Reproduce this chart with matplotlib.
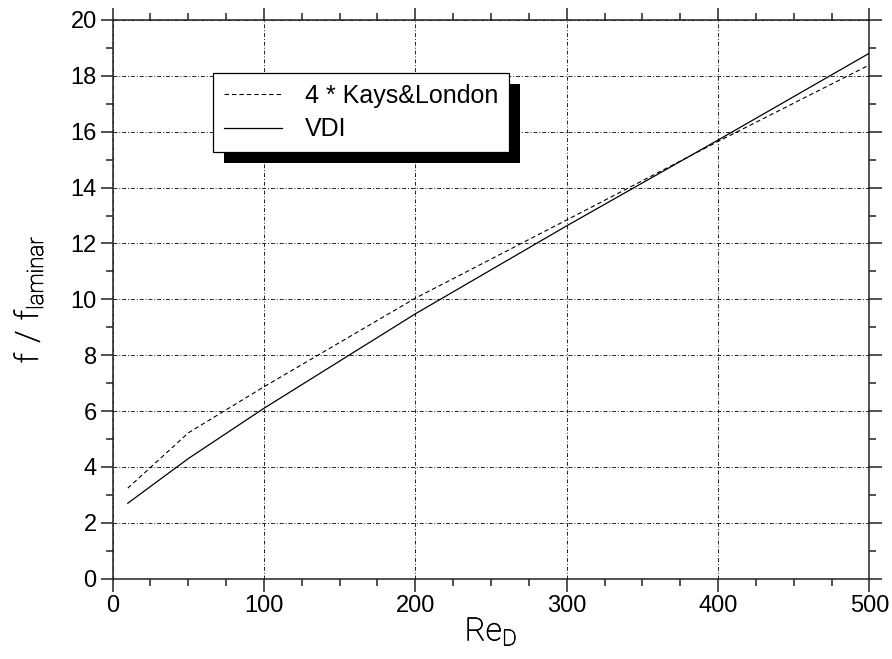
import matplotlib
matplotlib.use('Agg')
import matplotlib.pyplot as plt
import matplotlib.patheffects as pe
from matplotlib.patches import Rectangle
from matplotlib.ticker import MultipleLocator

# friction factor ratio vs Reynolds number
re_kl = [10, 50, 100, 200, 300, 400, 500]
f_kl = [3.24, 5.22, 6.87, 10.04, 12.84, 15.65, 18.39]   # 4 * Kays&London
re_vdi = [10, 50, 100, 200, 300, 400, 500]
f_vdi = [2.70, 4.30, 6.10, 9.48, 12.63, 15.70, 18.81]   # VDI

plt.rcParams['font.family'] = ['Liberation Sans', 'DejaVu Sans']

fig = plt.figure(figsize=(8.92, 6.59), dpi=100)
ax = fig.add_axes([0.1263, 0.1219, 0.8483, 0.8478])

ax.plot(re_kl, f_kl, color='black', lw=0.8, linestyle=(0, (4, 2.7)),
        label='4 * Kays&London', zorder=3)
ax.plot(re_vdi, f_vdi, color='black', lw=0.9, label='VDI', zorder=3)

ax.set_xlim(0, 500)
ax.set_ylim(0, 20)
ax.xaxis.set_major_locator(MultipleLocator(100))
ax.xaxis.set_minor_locator(MultipleLocator(25))
ax.yaxis.set_major_locator(MultipleLocator(2))
ax.yaxis.set_minor_locator(MultipleLocator(1))

ax.tick_params(which='both', direction='out', top=True, right=True,
               color='#222222', width=1.1)
ax.tick_params(which='major', length=9, labelsize=17, pad=2.5)
ax.tick_params(which='minor', length=5)
for sp in ax.spines.values():
    sp.set_linewidth(1.1)
    sp.set_color('#222222')

ax.grid(True, which='major', color='#222222', lw=0.7,
        linestyle=(0, (4, 2, 1, 2)), zorder=1)

# thin axis titles, slightly stroked so they stay dark
thin = dict(family=['Roboto', 'DejaVu Sans'], weight='light', color='black',
            path_effects=[pe.withStroke(linewidth=0.5, foreground='black')])
ax.set_xlabel(r'$\mathregular{Re_D}$', fontsize=23, labelpad=0, **thin)
ax.set_ylabel(r'$\mathregular{f\ /\ f_{laminar}}$', fontsize=23,
              labelpad=18, **thin)

leg = ax.legend(loc='upper left', bbox_to_anchor=(213 / 892, 1 - 73 / 659),
                bbox_transform=fig.transFigure, fontsize=18, frameon=True,
                fancybox=False, edgecolor='black', framealpha=1,
                borderpad=0.42, handlelength=2.35, handletextpad=0.9,
                labelspacing=0.4, borderaxespad=0)
leg.get_frame().set_linewidth(0.9)
leg.set_zorder(6)

# solid black drop shadow behind the legend box
fig.canvas.draw()
bb = leg.get_window_extent()
W, H = fig.bbox.width, fig.bbox.height
shadow = Rectangle(((bb.x0 + 11) / W, (bb.y0 - 11) / H), bb.width / W,
                   bb.height / H, transform=fig.transFigure,
                   facecolor='black', edgecolor='none', zorder=5,
                   clip_on=False)
ax.add_artist(shadow)

fig.savefig('out.png', dpi=100)
